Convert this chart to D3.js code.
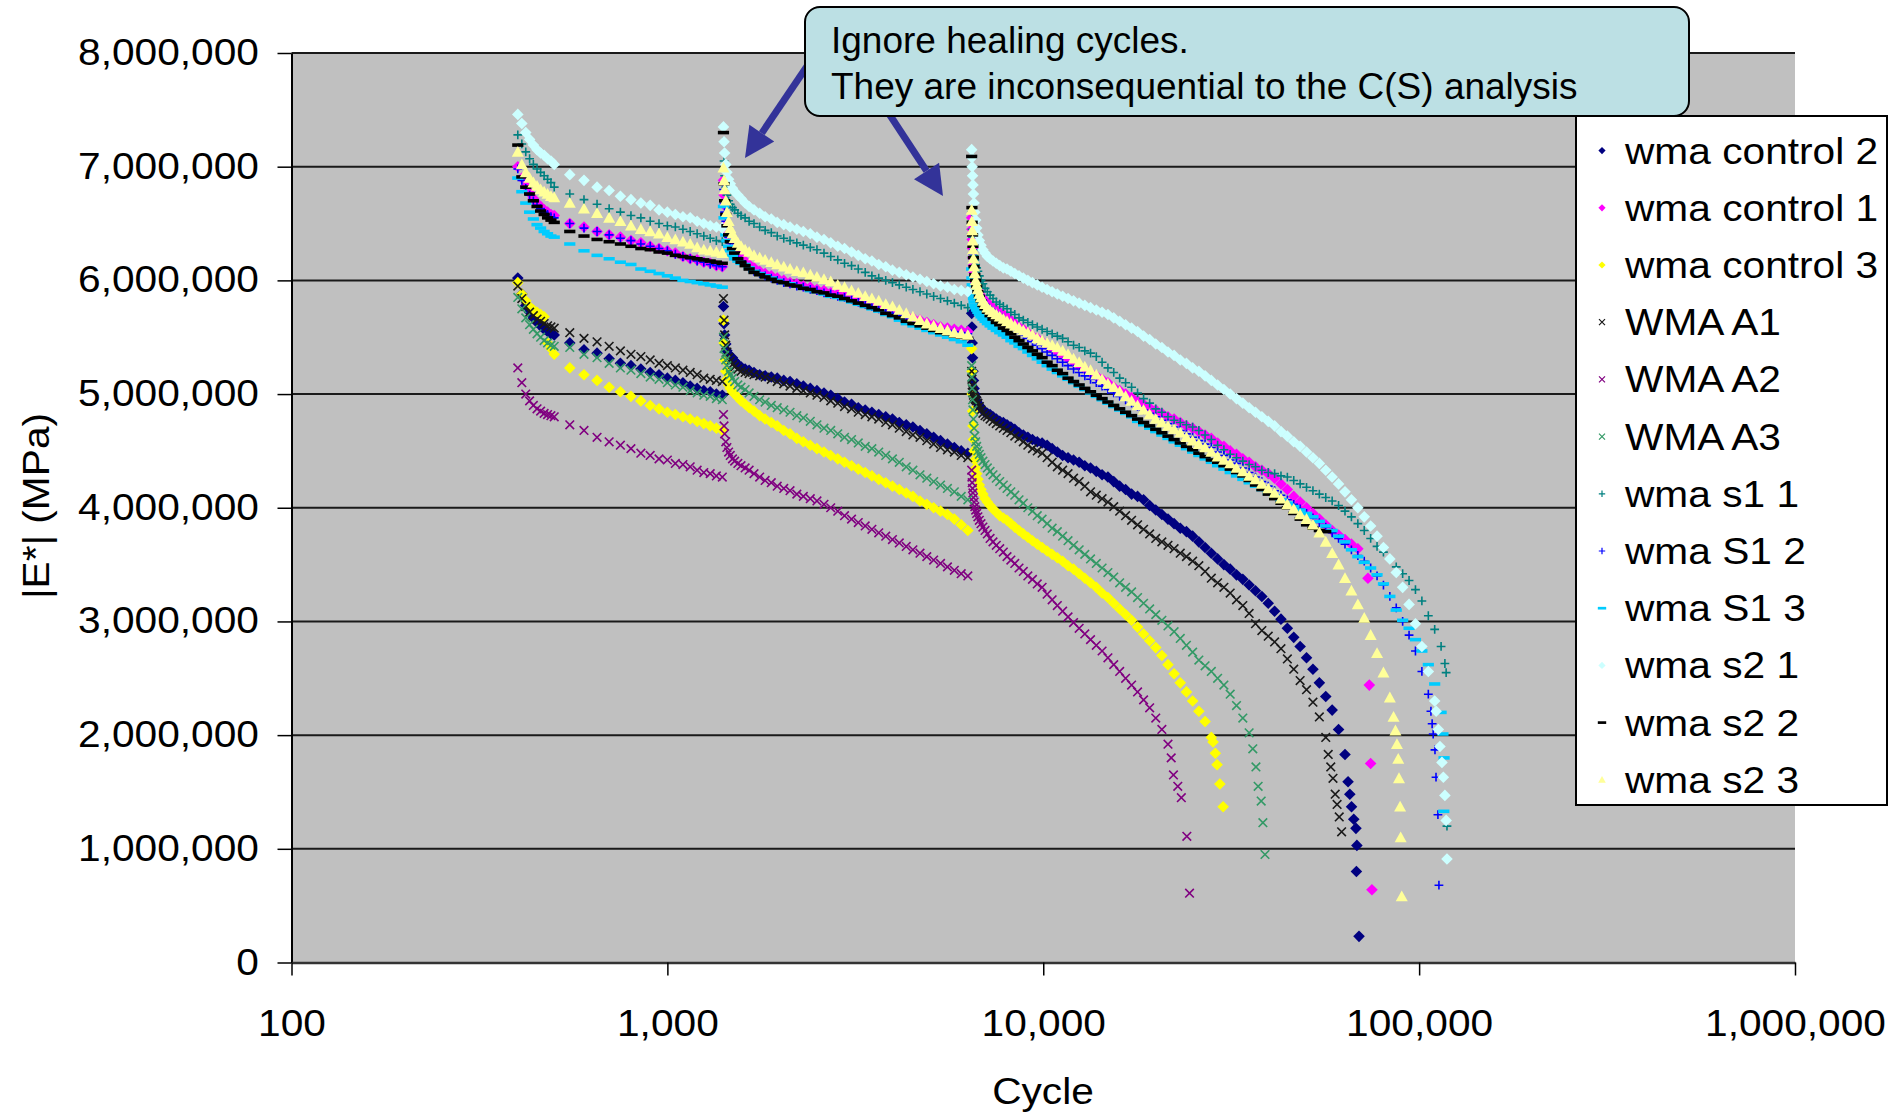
<!DOCTYPE html>
<html>
<head>
<meta charset="utf-8">
<script src="https://cdn.jsdelivr.net/npm/d3@7"></script>
<style>
  html, body { margin: 0; padding: 0; background: #ffffff; }
  svg { display: block; }
</style>
</head>
<body>
<svg id="chart" width="1889" height="1114"></svg>
<script>
// ---------------------------------------------------------------
// |E*| versus loading cycle for the WMA mixtures (values in MPa x 1e6)
// Three loading blocks separated by rest (healing) periods.
// ---------------------------------------------------------------

// Cycle grid shared by the first two loading blocks
const cyclesEarly = [
  400, 410, 420, 430, 440, 450, 460, 470, 480, 490, 500,
  550, 600, 650, 700, 750, 800, 850, 900, 950, 1000, 1050, 1100, 1150, 1200, 1250, 1300, 1350, 1400,
  1410, 1415, 1420, 1430, 1440, 1455, 1470, 1490, 1510, 1540,
  1570, 1610, 1650, 1700, 1760, 1820, 1890, 1960, 2040, 2120,
  2210, 2300, 2400, 2500, 2610, 2720, 2840, 2960, 3090, 3220,
  3360, 3500, 3650, 3810, 3970, 4140, 4320, 4500, 4700, 4900,
  5110, 5330, 5560, 5800, 6050, 6300
];

// Cycle grid for the third loading block (up to failure)
const cyclesLate = [
  6450, 6460, 6470, 6485, 6500, 6520, 6545, 6575, 6610, 6650,
  6700, 6760, 6830, 6910, 7000, 7100, 7220, 7350, 7500, 7660,
  7830, 8010, 8200, 8400, 8620, 8850, 9100, 9360, 9640, 9930,
  10240, 10560, 10900, 11260, 11640, 12040, 12460, 12900, 13360, 13840,
  14340, 14860, 15400, 15970, 16560, 17180, 17820, 18490, 19190, 19920,
  20680, 21470, 22290, 23150, 24040, 24970, 25940, 26950, 28000, 29100,
  30240, 31430, 32670, 33960, 35300, 36700, 38160, 39680, 41260, 42900,
  44610, 46390, 48240, 50170, 52180, 54270, 56440, 58700, 61050, 63500,
  66050, 68700, 71450, 74310, 77280, 80370, 83580, 86920, 90400, 94020,
  97780, 101700, 105800, 110000, 114400, 119000
];

// ---- wma control 2 ----
const ctrl2Early = [
  6.02, 5.88, 5.78, 5.72, 5.67, 5.63, 5.60, 5.57, 5.55, 5.53, 5.52,
  5.45, 5.39, 5.36, 5.31, 5.27, 5.25, 5.22, 5.19, 5.17, 5.14, 5.12, 5.10, 5.07, 5.05, 5.03, 5.02, 5.00, 4.99,
  5.77, 5.62, 5.52, 5.44, 5.38, 5.35, 5.33, 5.32, 5.29, 5.26,
  5.24, 5.22, 5.21, 5.19, 5.17, 5.16, 5.15, 5.14, 5.12, 5.11,
  5.09, 5.07, 5.05, 5.03, 5.01, 4.99, 4.96, 4.93, 4.91, 4.88,
  4.86, 4.84, 4.82, 4.80, 4.78, 4.75, 4.73, 4.71, 4.68, 4.65,
  4.62, 4.59, 4.56, 4.53, 4.50, 4.48
];
const ctrl2Late = [
  5.71, 5.59, 5.45, 5.32, 5.20, 5.12, 5.05, 5.00, 4.97, 4.94,
  4.92, 4.90, 4.88, 4.86, 4.84, 4.83, 4.82, 4.80, 4.78, 4.76,
  4.75, 4.73, 4.71, 4.69, 4.66, 4.64, 4.62, 4.60, 4.58, 4.57,
  4.55, 4.52, 4.49, 4.46, 4.44, 4.42, 4.40, 4.37, 4.35, 4.32,
  4.29, 4.27, 4.23, 4.19, 4.16, 4.12, 4.10, 4.07, 4.02, 3.98,
  3.94, 3.90, 3.86, 3.82, 3.79, 3.75, 3.70, 3.65, 3.60, 3.55,
  3.50, 3.46, 3.41, 3.37, 3.32, 3.27, 3.22, 3.16, 3.09, 3.02,
  2.94, 2.86, 2.78, 2.68, 2.58, 2.46, 2.34, 2.22, 2.05, 1.83
];
const ctrl2Tail = [[64700, 1.59], [65400, 1.48], [66100, 1.37], [67000, 1.26], [67900, 1.18], [68300, 1.03], [68100, 0.80], [69200, 0.23]];

// ---- wma control 1 ----
const ctrl1Early = [
  7.00, 6.90, 6.83, 6.77, 6.72, 6.68, 6.65, 6.62, 6.60, 6.58, 6.57,
  6.50, 6.47, 6.43, 6.40, 6.38, 6.35, 6.33, 6.30, 6.28, 6.26, 6.24, 6.21, 6.19, 6.18, 6.16, 6.15, 6.13, 6.12,
  6.88, 6.75, 6.66, 6.57, 6.49, 6.42, 6.36, 6.31, 6.27, 6.23,
  6.20, 6.17, 6.14, 6.11, 6.08, 6.06, 6.04, 6.02, 6.00, 5.98,
  5.97, 5.95, 5.94, 5.92, 5.91, 5.89, 5.88, 5.86, 5.84, 5.83,
  5.81, 5.79, 5.77, 5.75, 5.73, 5.71, 5.69, 5.67, 5.65, 5.63,
  5.61, 5.59, 5.58, 5.57, 5.56, 5.55
];
const ctrl1Late = [
  6.55, 6.45, 6.36, 6.28, 6.20, 6.13, 6.07, 6.02, 5.98, 5.95,
  5.92, 5.89, 5.86, 5.84, 5.82, 5.80, 5.78, 5.76, 5.74, 5.72,
  5.70, 5.68, 5.65, 5.62, 5.59, 5.57, 5.54, 5.51, 5.49, 5.46,
  5.43, 5.40, 5.37, 5.34, 5.31, 5.28, 5.25, 5.22, 5.19, 5.16,
  5.13, 5.10, 5.06, 5.03, 5.00, 4.97, 4.94, 4.91, 4.88, 4.86,
  4.83, 4.80, 4.78, 4.75, 4.72, 4.70, 4.67, 4.64, 4.61, 4.57,
  4.54, 4.50, 4.47, 4.43, 4.40, 4.36, 4.33, 4.30, 4.26, 4.21,
  4.16, 4.10, 4.05, 4.00, 3.95, 3.90, 3.85, 3.80, 3.76, 3.72,
  3.68, 3.64
];
const ctrl1Tail = [[73100, 3.38], [73700, 2.44], [74300, 1.75], [74900, 0.64]];

// ---- wma control 3 ----
const ctrl3Early = [
  5.98, 5.88, 5.82, 5.77, 5.74, 5.72, 5.70, 5.68, 5.45, 5.40, 5.35,
  5.23, 5.17, 5.12, 5.06, 5.02, 4.98, 4.94, 4.90, 4.87, 4.84, 4.82, 4.80, 4.78, 4.76, 4.74, 4.72, 4.70, 4.68,
  5.65, 5.45, 5.30, 5.20, 5.13, 5.08, 5.05, 5.02, 5.00, 4.97,
  4.94, 4.91, 4.88, 4.85, 4.81, 4.78, 4.75, 4.72, 4.68, 4.65,
  4.61, 4.58, 4.55, 4.52, 4.49, 4.46, 4.43, 4.40, 4.37, 4.34,
  4.31, 4.28, 4.25, 4.22, 4.19, 4.16, 4.13, 4.10, 4.06, 4.03,
  4.00, 3.97, 3.94, 3.90, 3.85, 3.80
];
const ctrl3Late = [
  5.40, 5.20, 5.00, 4.85, 4.72, 4.60, 4.50, 4.42, 4.35, 4.30,
  4.25, 4.20, 4.16, 4.12, 4.08, 4.05, 4.02, 3.99, 3.96, 3.93,
  3.91, 3.89, 3.86, 3.83, 3.80, 3.77, 3.74, 3.71, 3.68, 3.65,
  3.62, 3.59, 3.56, 3.53, 3.49, 3.46, 3.42, 3.38, 3.34, 3.30,
  3.25, 3.21, 3.16, 3.11, 3.06, 3.01, 2.95, 2.89, 2.83, 2.77,
  2.70, 2.62, 2.54, 2.46, 2.38, 2.30, 2.21, 2.12, 1.98
];
const ctrl3Tail = [[28300, 1.94], [28700, 1.84], [29000, 1.74], [29500, 1.57], [30100, 1.37]];

// ---- WMA A1 ----
const a1Early = [
  5.95, 5.84, 5.77, 5.72, 5.69, 5.66, 5.64, 5.62, 5.60, 5.59, 5.58,
  5.54, 5.49, 5.46, 5.42, 5.38, 5.35, 5.33, 5.30, 5.27, 5.25, 5.23, 5.21, 5.19, 5.17, 5.14, 5.13, 5.12, 5.11,
  5.84, 5.65, 5.52, 5.43, 5.37, 5.32, 5.29, 5.26, 5.24, 5.22,
  5.20, 5.19, 5.18, 5.17, 5.16, 5.15, 5.13, 5.11, 5.09, 5.07,
  5.05, 5.03, 5.01, 4.99, 4.97, 4.94, 4.92, 4.89, 4.87, 4.84,
  4.82, 4.80, 4.78, 4.75, 4.73, 4.70, 4.67, 4.64, 4.62, 4.59,
  4.56, 4.53, 4.51, 4.49, 4.46, 4.44
];
const a1Late = [
  5.20, 5.13, 5.08, 5.04, 5.01, 4.99, 4.97, 4.96, 4.95, 4.94,
  4.92, 4.89, 4.86, 4.83, 4.81, 4.80, 4.78, 4.76, 4.74, 4.72,
  4.70, 4.68, 4.66, 4.63, 4.61, 4.58, 4.55, 4.52, 4.50, 4.48,
  4.44, 4.40, 4.36, 4.33, 4.30, 4.26, 4.23, 4.19, 4.14, 4.11,
  4.08, 4.05, 4.01, 3.97, 3.93, 3.89, 3.85, 3.81, 3.77, 3.73,
  3.70, 3.67, 3.64, 3.60, 3.57, 3.53, 3.49, 3.44, 3.38, 3.34,
  3.30, 3.25, 3.19, 3.14, 3.07, 2.98, 2.92, 2.87, 2.82, 2.76,
  2.67, 2.58, 2.48, 2.40, 2.29, 2.16, 1.98
];
const a1Tail = [[57300, 1.83], [58200, 1.72], [59000, 1.62], [59800, 1.48], [60500, 1.39], [61300, 1.28], [62200, 1.15]];

// ---- WMA A2 ----
const a2Early = [
  5.23, 5.10, 5.00, 4.94, 4.90, 4.87, 4.85, 4.83, 4.82, 4.81, 4.80,
  4.73, 4.68, 4.62, 4.58, 4.55, 4.52, 4.48, 4.46, 4.43, 4.42, 4.39, 4.38, 4.36, 4.33, 4.31, 4.30, 4.28, 4.27,
  4.82, 4.72, 4.65, 4.58, 4.53, 4.49, 4.46, 4.43, 4.41, 4.39,
  4.37, 4.35, 4.33, 4.30, 4.27, 4.24, 4.22, 4.19, 4.17, 4.15,
  4.12, 4.10, 4.08, 4.06, 4.03, 4.00, 3.97, 3.93, 3.90, 3.87,
  3.84, 3.81, 3.78, 3.75, 3.72, 3.69, 3.66, 3.63, 3.60, 3.57,
  3.54, 3.51, 3.48, 3.45, 3.42, 3.40
];
const a2Late = [
  4.33, 4.27, 4.22, 4.17, 4.13, 4.09, 4.05, 4.01, 3.98, 3.95,
  3.92, 3.89, 3.86, 3.83, 3.80, 3.77, 3.73, 3.70, 3.67, 3.64,
  3.61, 3.57, 3.54, 3.51, 3.47, 3.44, 3.40, 3.37, 3.33, 3.30,
  3.24, 3.19, 3.14, 3.09, 3.04, 2.99, 2.94, 2.89, 2.84, 2.79,
  2.74, 2.68, 2.62, 2.56, 2.50, 2.44, 2.38, 2.31, 2.24, 2.15,
  2.05, 1.92
];
const a2Tail = [[21900, 1.80], [22200, 1.65], [22800, 1.55], [23300, 1.45], [24100, 1.11], [24500, 0.61]];

// ---- WMA A3 ----
const a3Early = [
  5.85, 5.75, 5.67, 5.61, 5.57, 5.53, 5.50, 5.47, 5.45, 5.43, 5.42,
  5.41, 5.35, 5.32, 5.27, 5.23, 5.21, 5.18, 5.15, 5.13, 5.10, 5.08, 5.06, 5.03, 5.01, 4.99, 4.98, 4.96, 4.95,
  5.50, 5.40, 5.34, 5.30, 5.25, 5.20, 5.17, 5.14, 5.11, 5.08,
  5.06, 5.04, 5.01, 4.98, 4.95, 4.93, 4.90, 4.88, 4.86, 4.84,
  4.81, 4.79, 4.76, 4.73, 4.70, 4.68, 4.65, 4.62, 4.60, 4.57,
  4.54, 4.52, 4.49, 4.46, 4.43, 4.40, 4.36, 4.33, 4.29, 4.26,
  4.23, 4.20, 4.17, 4.14, 4.10, 4.07
];
const a3Late = [
  5.25, 5.15, 5.05, 4.95, 4.86, 4.78, 4.70, 4.63, 4.58, 4.54,
  4.50, 4.47, 4.44, 4.41, 4.38, 4.35, 4.32, 4.29, 4.26, 4.23,
  4.20, 4.17, 4.14, 4.11, 4.07, 4.04, 4.00, 3.97, 3.93, 3.90,
  3.86, 3.82, 3.79, 3.75, 3.71, 3.67, 3.63, 3.59, 3.55, 3.51,
  3.47, 3.43, 3.39, 3.34, 3.30, 3.26, 3.21, 3.16, 3.11, 3.06,
  3.01, 2.96, 2.91, 2.85, 2.79, 2.73, 2.66, 2.61, 2.56, 2.50,
  2.44, 2.36, 2.26, 2.15, 2.02
];
const a3Tail = [[36100, 1.88], [36800, 1.72], [37300, 1.55], [38000, 1.42], [38400, 1.23], [38900, 0.95]];

// ---- wma s1 1 ----
const s11Early = [
  7.28, 7.20, 7.13, 7.07, 7.02, 6.98, 6.95, 6.92, 6.89, 6.86, 6.82,
  6.76, 6.71, 6.67, 6.63, 6.60, 6.57, 6.55, 6.52, 6.50, 6.48, 6.47, 6.45, 6.43, 6.41, 6.39, 6.37, 6.35, 6.34,
  7.22, 7.05, 6.92, 6.82, 6.75, 6.70, 6.67, 6.64, 6.62, 6.59,
  6.57, 6.55, 6.52, 6.50, 6.47, 6.44, 6.42, 6.39, 6.37, 6.35,
  6.33, 6.31, 6.29, 6.27, 6.24, 6.21, 6.18, 6.15, 6.13, 6.10,
  6.07, 6.04, 6.02, 6.00, 5.98, 5.96, 5.94, 5.92, 5.90, 5.88,
  5.86, 5.84, 5.82, 5.80, 5.78, 5.76
];
const s11Late = [
  6.60, 6.52, 6.45, 6.38, 6.32, 6.27, 6.22, 6.18, 6.14, 6.11,
  6.08, 6.04, 6.00, 5.97, 5.93, 5.90, 5.87, 5.84, 5.81, 5.79,
  5.77, 5.75, 5.72, 5.70, 5.67, 5.65, 5.63, 5.61, 5.59, 5.57,
  5.55, 5.53, 5.51, 5.49, 5.46, 5.43, 5.41, 5.38, 5.36, 5.33,
  5.28, 5.23, 5.19, 5.14, 5.10, 5.06, 5.01, 4.96, 4.92, 4.87,
  4.84, 4.80, 4.77, 4.75, 4.73, 4.71, 4.68, 4.64, 4.60, 4.55,
  4.51, 4.47, 4.44, 4.41, 4.38, 4.36, 4.33, 4.31, 4.30, 4.28,
  4.27, 4.24, 4.21, 4.18, 4.15, 4.12, 4.09, 4.06, 4.02, 3.97,
  3.92, 3.86, 3.80, 3.73, 3.66, 3.61, 3.55, 3.48, 3.42, 3.36,
  3.28, 3.18, 3.05, 2.93, 2.78
];
const s11Tail = [[117100, 2.63], [118000, 2.55], [118600, 1.20]];

// ---- wma S1 2 ----
const s12Early = [
  6.98, 6.88, 6.81, 6.75, 6.70, 6.66, 6.63, 6.60, 6.58, 6.56, 6.55,
  6.50, 6.46, 6.43, 6.40, 6.37, 6.35, 6.32, 6.30, 6.28, 6.26, 6.23, 6.21, 6.19, 6.17, 6.16, 6.14, 6.13, 6.12,
  6.80, 6.68, 6.60, 6.52, 6.45, 6.38, 6.33, 6.28, 6.24, 6.20,
  6.17, 6.14, 6.11, 6.08, 6.06, 6.04, 6.02, 6.00, 5.98, 5.97,
  5.95, 5.94, 5.92, 5.91, 5.89, 5.88, 5.86, 5.85, 5.83, 5.81,
  5.79, 5.77, 5.75, 5.73, 5.71, 5.69, 5.67, 5.65, 5.63, 5.61,
  5.59, 5.57, 5.56, 5.55, 5.54, 5.53
];
const s12Late = [
  6.50, 6.40, 6.31, 6.23, 6.16, 6.10, 6.04, 6.00, 5.96, 5.93,
  5.90, 5.87, 5.84, 5.82, 5.79, 5.77, 5.75, 5.73, 5.71, 5.69,
  5.67, 5.64, 5.61, 5.58, 5.55, 5.52, 5.49, 5.46, 5.43, 5.40,
  5.37, 5.34, 5.31, 5.28, 5.25, 5.22, 5.19, 5.16, 5.13, 5.10,
  5.07, 5.04, 5.01, 4.98, 4.95, 4.92, 4.89, 4.86, 4.83, 4.80,
  4.77, 4.74, 4.71, 4.68, 4.65, 4.62, 4.59, 4.56, 4.53, 4.49,
  4.46, 4.42, 4.39, 4.35, 4.31, 4.27, 4.23, 4.19, 4.15, 4.11,
  4.07, 4.03, 3.99, 3.95, 3.91, 3.87, 3.83, 3.78, 3.73, 3.68,
  3.63, 3.58, 3.53, 3.47, 3.40, 3.32, 3.22, 3.12, 3.00, 2.88,
  2.74, 2.56, 2.36
];
const s12Tail = [[107500, 2.21], [108300, 2.10], [109000, 2.01], [110200, 1.87], [110900, 1.63], [112200, 1.30], [112900, 0.68]];

// ---- wma S1 3 ----
const s13Early = [
  6.90, 6.78, 6.68, 6.60, 6.54, 6.49, 6.46, 6.43, 6.41, 6.39, 6.38,
  6.32, 6.26, 6.22, 6.19, 6.16, 6.14, 6.10, 6.08, 6.06, 6.04, 6.02, 6.00, 5.99, 5.98, 5.97, 5.96, 5.95, 5.94,
  6.65, 6.55, 6.47, 6.40, 6.35, 6.30, 6.26, 6.22, 6.19, 6.17,
  6.15, 6.14, 6.11, 6.08, 6.06, 6.04, 6.02, 6.00, 5.98, 5.97,
  5.95, 5.93, 5.91, 5.90, 5.88, 5.86, 5.85, 5.83, 5.81, 5.79,
  5.77, 5.75, 5.73, 5.70, 5.68, 5.65, 5.62, 5.60, 5.58, 5.56,
  5.54, 5.52, 5.50, 5.48, 5.46, 5.43
];
const s13Late = [
  6.10, 6.02, 5.96, 5.91, 5.87, 5.84, 5.81, 5.78, 5.76, 5.74,
  5.72, 5.70, 5.68, 5.66, 5.64, 5.62, 5.60, 5.58, 5.56, 5.54,
  5.52, 5.50, 5.47, 5.45, 5.42, 5.40, 5.37, 5.34, 5.31, 5.28,
  5.25, 5.22, 5.19, 5.16, 5.13, 5.10, 5.07, 5.04, 5.01, 4.98,
  4.95, 4.92, 4.89, 4.86, 4.83, 4.80, 4.76, 4.73, 4.70, 4.67,
  4.64, 4.61, 4.58, 4.55, 4.52, 4.49, 4.46, 4.43, 4.40, 4.37,
  4.34, 4.31, 4.28, 4.25, 4.22, 4.19, 4.16, 4.13, 4.10, 4.07,
  4.04, 4.01, 3.98, 3.95, 3.92, 3.88, 3.84, 3.80, 3.75, 3.70,
  3.63, 3.57, 3.52, 3.47, 3.41, 3.33, 3.22, 3.10, 3.01, 2.94,
  2.84, 2.74, 2.62, 2.45, 2.20
];
const s13Tail = [[115700, 2.01], [116500, 1.80], [116300, 1.33]];

// ---- wma s2 1 ----
const s21Early = [
  7.46, 7.38, 7.30, 7.24, 7.19, 7.15, 7.12, 7.10, 7.07, 7.05, 7.02,
  6.93, 6.88, 6.82, 6.79, 6.74, 6.71, 6.68, 6.66, 6.62, 6.60, 6.58, 6.56, 6.55, 6.52, 6.50, 6.48, 6.47, 6.46,
  7.35, 7.22, 7.12, 7.02, 6.95, 6.89, 6.85, 6.81, 6.78, 6.75,
  6.72, 6.68, 6.65, 6.62, 6.59, 6.56, 6.54, 6.51, 6.49, 6.47,
  6.45, 6.43, 6.41, 6.38, 6.36, 6.33, 6.30, 6.28, 6.25, 6.22,
  6.19, 6.17, 6.14, 6.12, 6.09, 6.07, 6.05, 6.03, 6.01, 5.99,
  5.97, 5.95, 5.94, 5.92, 5.91, 5.90
];
const s21Late = [
  7.15, 7.08, 7.00, 6.92, 6.84, 6.76, 6.68, 6.60, 6.53, 6.46,
  6.40, 6.35, 6.31, 6.27, 6.24, 6.21, 6.19, 6.17, 6.15, 6.13,
  6.11, 6.10, 6.08, 6.06, 6.04, 6.02, 6.00, 5.98, 5.96, 5.94,
  5.92, 5.90, 5.88, 5.86, 5.84, 5.82, 5.80, 5.78, 5.76, 5.74,
  5.72, 5.70, 5.67, 5.64, 5.61, 5.58, 5.55, 5.51, 5.48, 5.44,
  5.41, 5.37, 5.34, 5.30, 5.27, 5.23, 5.20, 5.16, 5.12, 5.08,
  5.04, 5.00, 4.96, 4.92, 4.88, 4.84, 4.80, 4.76, 4.72, 4.67,
  4.63, 4.58, 4.54, 4.49, 4.44, 4.39, 4.33, 4.27, 4.21, 4.14,
  4.07, 4.00, 3.92, 3.84, 3.75, 3.65, 3.55, 3.43, 3.30, 3.15,
  2.98, 2.78, 2.56, 2.30
];
const s21Tail = [[111000, 2.21], [112500, 2.05], [113600, 1.90], [115000, 1.76], [116000, 1.63], [117100, 1.47], [118000, 1.25], [118600, 0.91]];

// ---- wma s2 2 ----
const s22Early = [
  7.19, 6.91, 6.82, 6.76, 6.70, 6.65, 6.61, 6.58, 6.55, 6.53, 6.51,
  6.43, 6.39, 6.36, 6.34, 6.32, 6.30, 6.28, 6.27, 6.25, 6.24, 6.22, 6.21, 6.20, 6.19, 6.18, 6.17, 6.16, 6.15,
  7.30, 6.85, 6.70, 6.58, 6.48, 6.40, 6.34, 6.28, 6.24, 6.19,
  6.16, 6.13, 6.10, 6.07, 6.05, 6.03, 6.01, 5.99, 5.98, 5.96,
  5.95, 5.93, 5.92, 5.90, 5.89, 5.87, 5.86, 5.84, 5.82, 5.80,
  5.78, 5.76, 5.74, 5.71, 5.69, 5.67, 5.64, 5.62, 5.60, 5.58,
  5.56, 5.54, 5.53, 5.51, 5.50, 5.49
];
const s22Late = [
  7.09, 6.64, 6.51, 6.40, 6.30, 6.20, 6.12, 6.05, 6.00, 5.95,
  5.90, 5.86, 5.82, 5.78, 5.75, 5.72, 5.69, 5.66, 5.63, 5.61,
  5.58, 5.56, 5.53, 5.50, 5.47, 5.44, 5.41, 5.38, 5.35, 5.32,
  5.28, 5.25, 5.21, 5.18, 5.14, 5.11, 5.08, 5.05, 5.02, 4.99,
  4.96, 4.93, 4.90, 4.87, 4.84, 4.81, 4.78, 4.75, 4.72, 4.69,
  4.66, 4.63, 4.60, 4.57, 4.54, 4.51, 4.48, 4.45, 4.42, 4.40,
  4.37, 4.34, 4.31, 4.28, 4.24, 4.20, 4.16, 4.12, 4.08, 4.04,
  4.00, 3.95, 3.90, 3.85, 3.82, 3.80, 3.79
];
const s22Tail = [];

// ---- wma s2 3 ----
const s23Early = [
  7.13, 7.02, 6.95, 6.90, 6.86, 6.83, 6.80, 6.78, 6.76, 6.74, 6.73,
  6.68, 6.63, 6.59, 6.55, 6.52, 6.48, 6.45, 6.43, 6.41, 6.38, 6.36, 6.34, 6.32, 6.29, 6.27, 6.26, 6.25, 6.24,
  6.99, 6.88, 6.80, 6.70, 6.60, 6.52, 6.46, 6.41, 6.37, 6.33,
  6.30, 6.27, 6.25, 6.22, 6.20, 6.18, 6.16, 6.14, 6.12, 6.10,
  6.08, 6.07, 6.05, 6.03, 6.01, 5.99, 5.96, 5.94, 5.91, 5.89,
  5.86, 5.84, 5.82, 5.79, 5.77, 5.74, 5.71, 5.68, 5.65, 5.62,
  5.60, 5.58, 5.56, 5.54, 5.53, 5.52
];
const s23Late = [
  6.62, 6.52, 6.44, 6.35, 6.27, 6.19, 6.12, 6.06, 6.00, 5.96,
  5.92, 5.88, 5.85, 5.82, 5.79, 5.76, 5.74, 5.72, 5.70, 5.68,
  5.66, 5.64, 5.62, 5.60, 5.58, 5.56, 5.54, 5.52, 5.49, 5.47,
  5.45, 5.43, 5.41, 5.38, 5.35, 5.31, 5.28, 5.24, 5.21, 5.17,
  5.13, 5.09, 5.06, 5.02, 4.98, 4.94, 4.90, 4.86, 4.82, 4.78,
  4.75, 4.72, 4.69, 4.66, 4.62, 4.59, 4.56, 4.53, 4.49, 4.45,
  4.42, 4.39, 4.35, 4.32, 4.28, 4.25, 4.21, 4.17, 4.13, 4.08,
  4.03, 3.99, 3.94, 3.90, 3.85, 3.78, 3.70, 3.60, 3.50, 3.38,
  3.27, 3.15, 3.03, 2.88, 2.72, 2.55, 2.33
];
const s23Tail = [[85500, 2.16], [86500, 2.04], [87300, 1.92], [88000, 1.79], [88400, 1.62], [89000, 1.37], [89300, 1.10], [89900, 0.58]];

// Series order, labels and marker styles (legend order)
const seriesNames = ["wma control 2", "wma control 1", "wma control 3", "WMA A1", "WMA A2", "WMA A3",
                     "wma s1 1", "wma S1 2", "wma S1 3", "wma s2 1", "wma s2 2", "wma s2 3"];
const seriesColors = ["#000080", "#FF00FF", "#FFFF00", "#1a1a1a", "#800080", "#339966",
                      "#008080", "#0000FF", "#00CCFF", "#CCFFFF", "#000000", "#FFFF99"];
const seriesMarkers = ["diamond", "diamond", "diamond", "x", "x", "x",
                       "plus", "plus", "dash", "diamond", "dash", "triangle"];
const earlyValues = [ctrl2Early, ctrl1Early, ctrl3Early, a1Early, a2Early, a3Early, s11Early, s12Early, s13Early, s21Early, s22Early, s23Early];
const lateValues  = [ctrl2Late, ctrl1Late, ctrl3Late, a1Late, a2Late, a3Late, s11Late, s12Late, s13Late, s21Late, s22Late, s23Late];
const tailValues  = [ctrl2Tail, ctrl1Tail, ctrl3Tail, a1Tail, a2Tail, a3Tail, s11Tail, s12Tail, s13Tail, s21Tail, s22Tail, s23Tail];

// Axis ticks
const xTicks = [100, 1000, 10000, 100000, 1000000];
const yTicks = [0, 1000000, 2000000, 3000000, 4000000, 5000000, 6000000, 7000000, 8000000];

// ---------------------------------------------------------------
const FONT = "'Liberation Sans', Arial, Helvetica, sans-serif";
const STRETCH = 1.13;
const svg = d3.select("#chart");
const plot = { left: 291.5, right: 1795, top: 53, bottom: 962.5 };

const x = d3.scaleLog().domain([100, 1000000]).range([plot.left, plot.right]);
const y = d3.scaleLinear().domain([0, 8000000]).range([plot.bottom, plot.top]);

const series = seriesNames.map((name, i) => {
  const pts = [];
  earlyValues[i].forEach((v, j) => pts.push({ c: cyclesEarly[j], v: v * 1e6 }));
  lateValues[i].forEach((v, j) => pts.push({ c: cyclesLate[j], v: v * 1e6 }));
  tailValues[i].forEach(([c, v]) => pts.push({ c: c, v: v * 1e6 }));
  return { name, color: seriesColors[i], marker: seriesMarkers[i], pts };
});

function markerPath(kind, s) {
  switch (kind) {
    case "diamond":  return `M0,${-s}L${s},0L0,${s}L${-s},0Z`;
    case "triangle": return `M0,${-s}L${s},${s * 0.8}L${-s},${s * 0.8}Z`;
    case "x":        return `M${-s},${-s}L${s},${s}M${-s},${s}L${s},${-s}`;
    case "plus":     return `M${-s},0L${s},0M0,${-s}L0,${s}`;
    case "dash":     return `M${-s},${-s * 0.32}h${2 * s}v${s * 0.64}h${-2 * s}Z`;
  }
}
const markerSize = { diamond: 5.8, triangle: 6.0, x: 4.3, plus: 4.4, dash: 5.6 };
function styleMarker(sel, kind, color, lw) {
  if (kind === "x" || kind === "plus") {
    sel.attr("fill", "none").attr("stroke", color).attr("stroke-width", lw);
  } else {
    sel.attr("fill", color).attr("stroke", "none");
  }
}

// plot area background
svg.append("rect")
  .attr("x", plot.left).attr("y", plot.top)
  .attr("width", plot.right - plot.left).attr("height", plot.bottom - plot.top)
  .attr("fill", "#C0C0C0");

// horizontal gridlines
svg.append("g").selectAll("line")
  .data(yTicks.filter(t => t > 0))
  .join("line")
  .attr("x1", plot.left).attr("x2", plot.right)
  .attr("y1", d => y(d)).attr("y2", d => y(d))
  .attr("stroke", "#1a1a1a").attr("stroke-width", 2);

// data markers, series drawn in order
const dataG = svg.append("g");
series.forEach(s => {
  const g = dataG.append("g");
  const p = markerPath(s.marker, markerSize[s.marker]);
  const sel = g.selectAll("path").data(s.pts).join("path")
    .attr("d", p)
    .attr("transform", d => `translate(${x(d.c).toFixed(2)},${y(d.v).toFixed(2)})`);
  styleMarker(sel, s.marker, s.color, 1.6);
});

// axes
const yAxis = d3.axisLeft(y).tickValues(yTicks).tickFormat(d3.format(","))
  .tickSize(14).tickSizeOuter(0).tickPadding(14.8);
const gy = svg.append("g").attr("transform", `translate(${plot.left},0)`).call(yAxis);
gy.attr("font-family", null).attr("font-size", null);
gy.select(".domain").attr("stroke", "#000").attr("stroke-width", 2);
gy.selectAll(".tick line").attr("stroke", "#000").attr("stroke-width", 1.5);
gy.selectAll(".tick text")
  .attr("font-family", FONT).attr("font-size", 36).attr("fill", "#000")
  .attr("transform", `scale(${STRETCH},1)`);

const xAxis = d3.axisBottom(x).tickValues(xTicks).tickFormat(d3.format(","))
  .tickSize(13).tickSizeOuter(0).tickPadding(35);
const gx = svg.append("g").attr("transform", `translate(0,${plot.bottom})`).call(xAxis);
gx.attr("font-family", null).attr("font-size", null);
gx.select(".domain").attr("stroke", "#333").attr("stroke-width", 2.5);
gx.selectAll(".tick line").attr("stroke", "#000").attr("stroke-width", 1.5);
gx.selectAll(".tick text")
  .attr("font-family", FONT).attr("font-size", 36).attr("fill", "#000")
  .attr("transform", `scale(${STRETCH},1)`);

// axis titles
svg.append("text")
  .attr("transform", `translate(1043,1104) scale(${STRETCH},1)`)
  .attr("text-anchor", "middle")
  .attr("font-family", FONT).attr("font-size", 36).attr("fill", "#000")
  .text("Cycle");
svg.append("text")
  .attr("transform", `translate(49,506) rotate(-90) scale(${STRETCH},1)`)
  .attr("text-anchor", "middle")
  .attr("font-family", FONT).attr("font-size", 36).attr("fill", "#000")
  .text("|E*| (MPa)");

// legend
const legend = svg.append("g");
legend.append("rect")
  .attr("x", 1576).attr("y", 116).attr("width", 311).attr("height", 689)
  .attr("fill", "#fff").attr("stroke", "#000").attr("stroke-width", 2);
const legendSize = { diamond: 3.6, triangle: 3.8, x: 3.0, plus: 3.2, dash: 4.2 };
series.forEach((s, i) => {
  const cy = 150.6 + i * 57.2;
  const m = legend.append("path")
    .attr("d", markerPath(s.marker, legendSize[s.marker]))
    .attr("transform", `translate(1602,${cy})`);
  styleMarker(m, s.marker, s.color, 1.2);
  legend.append("text")
    .attr("transform", `translate(1625,${cy + 13}) scale(${STRETCH},1)`)
    .attr("font-family", FONT).attr("font-size", 36).attr("fill", "#000")
    .text(s.name);
});

// callout arrows and box
function arrow(x1, y1, x2, y2) {
  const ang = Math.atan2(y2 - y1, x2 - x1);
  const hl = 30, hw = 15;
  const bx = x2 - hl * Math.cos(ang), by = y2 - hl * Math.sin(ang);
  svg.append("line")
    .attr("x1", x1).attr("y1", y1).attr("x2", bx).attr("y2", by)
    .attr("stroke", "#333399").attr("stroke-width", 7);
  const px = Math.sin(ang) * hw, py = -Math.cos(ang) * hw;
  svg.append("path")
    .attr("d", `M${x2},${y2}L${bx + px},${by + py}L${bx - px},${by - py}Z`)
    .attr("fill", "#333399");
}
arrow(818, 50, 745, 158);
arrow(880, 100, 943, 196);

svg.append("rect")
  .attr("x", 805).attr("y", 7).attr("width", 884).attr("height", 109)
  .attr("rx", 15).attr("ry", 15)
  .attr("fill", "#BCE0E4").attr("stroke", "#000").attr("stroke-width", 2);
svg.append("text")
  .attr("x", 831).attr("y", 53)
  .attr("font-family", FONT).attr("font-size", 37).attr("fill", "#000")
  .text("Ignore healing cycles.");
svg.append("text")
  .attr("x", 831).attr("y", 99)
  .attr("font-family", FONT).attr("font-size", 37).attr("fill", "#000")
  .text("They are inconsequential to the C(S) analysis");
</script>
</body>
</html>
